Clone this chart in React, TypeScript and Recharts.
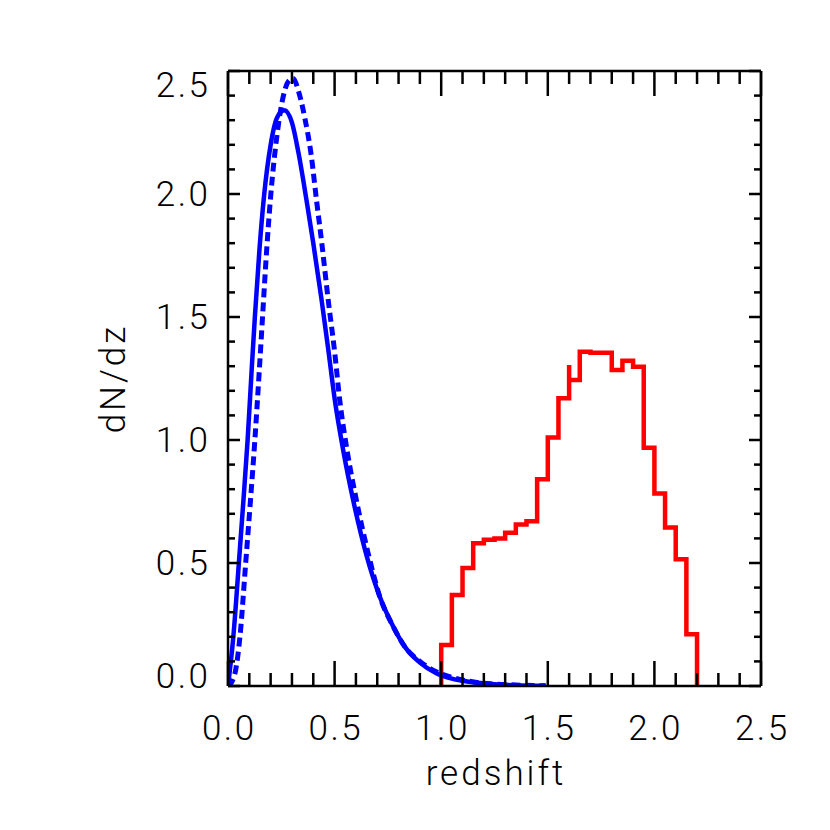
import { Line, LineChart, XAxis, YAxis } from 'recharts';

// axis ticks (every 0.1, labels on the 0.5 steps)
const X_TICKS = [0, 0.1, 0.2, 0.3, 0.4, 0.5, 0.6, 0.7, 0.8, 0.9, 1.0, 1.1, 1.2, 1.3, 1.4, 1.5, 1.6, 1.7, 1.8, 1.9, 2.0, 2.1, 2.2, 2.3, 2.4, 2.5];
const Y_TICKS = [0, 0.1, 0.2, 0.3, 0.4, 0.5, 0.6, 0.7, 0.8, 0.9, 1.0, 1.1, 1.2, 1.3, 1.4, 1.5, 1.6, 1.7, 1.8, 1.9, 2.0, 2.1, 2.2, 2.3, 2.4, 2.5];

// solid blue curve
const SOLID_Z = [0, 0.025, 0.051, 0.072, 0.092, 0.111, 0.126, 0.148, 0.17, 0.2, 0.23, 0.264, 0.3, 0.33, 0.368, 0.4, 0.439, 0.47, 0.501, 0.54, 0.587, 0.65, 0.712, 0.77, 0.829, 0.9, 0.977, 1.05, 1.133, 1.25, 1.35, 1.49];
const SOLID_DNDZ = [0, 0.2, 0.5, 0.75, 1.0, 1.285, 1.5, 1.78, 2.0, 2.2, 2.31, 2.34, 2.29, 2.17, 1.976, 1.8, 1.569, 1.37, 1.163, 0.96, 0.756, 0.53, 0.363, 0.25, 0.16, 0.095, 0.052, 0.03, 0.017, 0.007, 0.003, 0.001];

// dashed blue curve
const DASHED_Z = [0, 0.02, 0.036, 0.056, 0.083, 0.105, 0.126, 0.147, 0.162, 0.182, 0.201, 0.23, 0.26, 0.285, 0.306, 0.33, 0.36, 0.39, 0.415, 0.44, 0.47, 0.5, 0.524, 0.56, 0.602, 0.66, 0.712, 0.77, 0.829, 0.9, 0.977, 1.05, 1.133, 1.25, 1.35, 1.49];
const DASHED_DNDZ = [0, 0.02, 0.065, 0.2, 0.5, 0.75, 1.0, 1.285, 1.5, 1.78, 2.0, 2.24, 2.4, 2.46, 2.47, 2.42, 2.31, 2.16, 1.976, 1.8, 1.569, 1.36, 1.163, 0.95, 0.756, 0.53, 0.363, 0.25, 0.16, 0.1, 0.058, 0.035, 0.019, 0.008, 0.004, 0.001];

// red histogram: left bin edges and heights (1.60 appears twice for the small spike)
const HIST_EDGES = [1.0, 1.05, 1.1, 1.15, 1.2, 1.25, 1.3, 1.35, 1.4, 1.45, 1.5, 1.55, 1.6, 1.6, 1.65, 1.7, 1.75, 1.8, 1.85, 1.9, 1.95, 2.0, 2.05, 2.1, 2.15];
const HIST_DNDZ = [0.167, 0.37, 0.48, 0.58, 0.595, 0.6, 0.623, 0.657, 0.67, 0.84, 1.01, 1.17, 1.305, 1.244, 1.359, 1.355, 1.355, 1.285, 1.322, 1.298, 0.969, 0.783, 0.644, 0.515, 0.21];
const HIST_END = 2.2;

const solid = SOLID_Z.map((z, i) => ({ z, v: SOLID_DNDZ[i] }));
const dashed = DASHED_Z.map((z, i) => ({ z, v: DASHED_DNDZ[i] }));
const hist = [
  { z: HIST_EDGES[0], v: 0 },
  ...HIST_EDGES.map((z, i) => ({ z, v: HIST_DNDZ[i] })),
  { z: HIST_END, v: 0 },
];

const FONT = 'Roboto, "Liberation Sans", sans-serif';
const LS = 2.5;
const labelStyle = { fontFamily: FONT, fontSize: 35, fontWeight: 300, fill: '#000', letterSpacing: LS };
const titleStyle = { fontFamily: FONT, fontSize: 35, fontWeight: 300, fill: '#000', letterSpacing: 3 };

const isMajor = (v: number) => Math.abs(v * 2 - Math.round(v * 2)) < 1e-6;

function BottomTick({ x, y, payload }: any) {
  const major = isMajor(payload.value);
  return (
    <g>
      <line x1={x} y1={y} x2={x} y2={y - (major ? 25 : 13)} stroke="#000" strokeWidth={2.5} />
      {major && (
        <text x={x + LS / 2} y={y + 54} textAnchor="middle" style={labelStyle}>
          {payload.value.toFixed(1)}
        </text>
      )}
    </g>
  );
}

function TopTick({ x, y, payload }: any) {
  const major = isMajor(payload.value);
  return <line x1={x} y1={y} x2={x} y2={y + (major ? 25 : 13)} stroke="#000" strokeWidth={2.5} />;
}

function LeftTick({ x, y, payload }: any) {
  const v = payload.value;
  const major = isMajor(v);
  let dy = 12;
  if (v >= 2.49) dy = 26;
  if (v <= 0.01) dy = 2;
  return (
    <g>
      <line x1={x} y1={y} x2={x + (major ? 12 : 7)} y2={y} stroke="#000" strokeWidth={2.5} />
      {major && (
        <text x={x - 20 + LS} y={y + dy} textAnchor="end" style={labelStyle}>
          {v.toFixed(1)}
        </text>
      )}
    </g>
  );
}

function RightTick({ x, y, payload }: any) {
  const major = isMajor(payload.value);
  return <line x1={x} y1={y} x2={x - (major ? 12 : 7)} y2={y} stroke="#000" strokeWidth={2.5} />;
}

const axisLine = { stroke: '#000', strokeWidth: 2.5 };

export default function App() {
  return (
    <LineChart width={830} height={830} margin={{ top: 53, right: 67, bottom: 92, left: 160 }}>
      <XAxis
        xAxisId={0}
        dataKey="z"
        type="number"
        domain={[0, 2.5]}
        ticks={X_TICKS}
        interval={0}
        allowDataOverflow
        height={60}
        tickSize={0}
        tickMargin={0}
        tickLine={false}
        axisLine={axisLine}
        tick={(p: any) => <BottomTick {...p} />}
        label={{
          content: ({ viewBox }: any) => (
            <text x={viewBox.x + viewBox.width / 2 + 1.5} y={viewBox.y + 99} textAnchor="middle" style={titleStyle}>
              redshift
            </text>
          ),
        }}
      />
      <XAxis
        xAxisId="top"
        orientation="top"
        dataKey="z"
        type="number"
        domain={[0, 2.5]}
        ticks={X_TICKS}
        interval={0}
        allowDataOverflow
        height={10}
        tickSize={0}
        tickMargin={0}
        tickLine={false}
        axisLine={axisLine}
        tick={(p: any) => <TopTick {...p} />}
      />
      <YAxis
        yAxisId={0}
        type="number"
        domain={[0, 2.5]}
        ticks={Y_TICKS}
        interval={0}
        allowDataOverflow
        width={60}
        tickSize={0}
        tickMargin={0}
        tickLine={false}
        axisLine={axisLine}
        tick={(p: any) => <LeftTick {...p} />}
        label={{
          content: ({ viewBox }: any) => {
            const cx = viewBox.x - 43;
            const cy = viewBox.y + viewBox.height / 2;
            return (
              <text x={cx} y={cy} transform={`rotate(-90, ${cx}, ${cy})`} textAnchor="middle" style={titleStyle}>
                dN/dz
              </text>
            );
          },
        }}
      />
      <YAxis
        yAxisId="right"
        orientation="right"
        type="number"
        domain={[0, 2.5]}
        ticks={Y_TICKS}
        interval={0}
        allowDataOverflow
        width={10}
        tickSize={0}
        tickMargin={0}
        tickLine={false}
        axisLine={axisLine}
        tick={(p: any) => <RightTick {...p} />}
      />
      <Line
        data={hist}
        dataKey="v"
        type="stepAfter"
        stroke="#ff0000"
        strokeWidth={4.5}
        dot={false}
        activeDot={false}
        isAnimationActive={false}
      />
      <Line
        data={dashed}
        dataKey="v"
        type="monotone"
        stroke="#0000ff"
        strokeWidth={5}
        strokeDasharray="9 5"
        dot={false}
        activeDot={false}
        isAnimationActive={false}
      />
      <Line
        data={solid}
        dataKey="v"
        type="monotone"
        stroke="#0000ff"
        strokeWidth={4.5}
        dot={false}
        activeDot={false}
        isAnimationActive={false}
      />
    </LineChart>
  );
}
